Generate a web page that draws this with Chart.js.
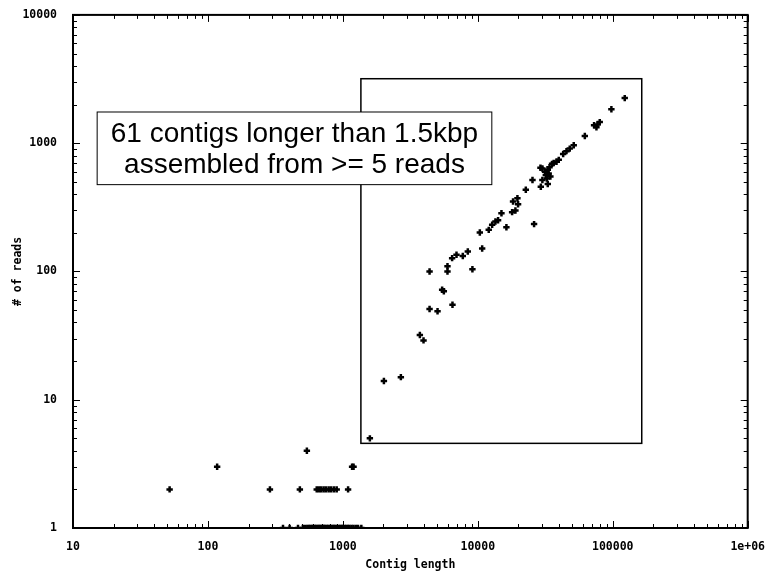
<!DOCTYPE html>
<html>
<head>
<meta charset="utf-8">
<script src="https://cdn.jsdelivr.net/npm/chart.js@4.4.1/dist/chart.umd.min.js"></script>
<style>
  html, body { margin: 0; padding: 0; background: #fff; }
  #wrap { width: 769px; height: 576px; }
</style>
</head>
<body>
<div id="wrap"><canvas id="readsChart" width="769" height="576"></canvas></div>
<script>
// contigs below 1.5kbp (few reads)
const shortLengths = [
  360, 403, 465, 505, 525, 545, 560, 575, 590, 605, 620, 635, 650, 665, 680, 695, 710, 725, 740, 760,
  780, 800, 820, 840, 860, 880, 905, 930, 955, 980, 1000, 1030, 1060, 1090, 1120, 1160, 1200, 1250, 1295, 1370,
  52, 288, 480, 640, 665, 690, 720, 750, 785, 820, 860, 900, 1093,
  117, 1170, 1200,
  541
];
const shortReads = [
  1, 1, 1, 1, 1, 1, 1, 1, 1, 1, 1, 1, 1, 1, 1, 1, 1, 1, 1, 1,
  1, 1, 1, 1, 1, 1, 1, 1, 1, 1, 1, 1, 1, 1, 1, 1, 1, 1, 1, 1,
  2, 2, 2, 2, 2, 2, 2, 2, 2, 2, 2, 2, 2,
  3, 3, 3,
  4
];

// the 61 contigs longer than 1.5kbp
const longLengths = [
  1585, 2014, 2690, 3720, 3960, 4390, 5030, 4390, 5440, 5600,
  6490, 5960, 5960, 6450, 6950, 7740, 8430, 9120, 10350, 10770,
  12050, 12770, 13510, 14130, 14970, 16290, 17950, 19000, 18240, 19660,
  19880, 26120, 22680, 25420, 29120, 39800, 42900, 45400, 48000, 51400,
  62100, 72700, 77100, 80100, 75700, 97700, 122700,
  29300, 30100, 30100, 31900, 31500, 32500, 33000, 33500, 33000, 34000,
  34500, 35500, 36500, 38300
];
const longReads = [
  5, 14, 15, 32, 29, 51, 49, 100, 72, 70,
  55, 110, 100, 127, 135, 132, 143, 104, 201, 151,
  211, 231, 245, 251, 284, 221, 290, 299, 351, 372,
  334, 234, 433, 517, 643, 741, 824, 867, 907, 964,
  1138, 1380, 1400, 1460, 1330, 1840, 2245,
  458, 517, 635, 565, 600, 530, 620, 580, 480, 650,
  550, 690, 700, 716
];

const xTickLabels = { 10: "10", 100: "100", 1000: "1000", 10000: "10000", 100000: "100000", 1000000: "1e+06" };
const yTickLabels = { 1: "1", 10: "10", 100: "100", 1000: "1000", 10000: "10000" };

const noteLines = ["61 contigs longer than 1.5kbp", "assembled from >= 5 reads"];

const toXY = (xs, ys) => xs.map((x, i) => ({ x, y: ys[i] }));

// all 1..9 x 10^n ticks between min and max
function logTicks(min, max) {
  const out = [];
  for (let p = Math.log10(min); p < Math.log10(max); p++) {
    for (let m = 1; m < 10; m++) out.push({ value: m * Math.pow(10, p) });
  }
  out.push({ value: max });
  return out;
}
const isMajor = v => Math.abs(Math.log10(v) - Math.round(Math.log10(v))) < 1e-9;

const monoFont = { family: "'DejaVu Sans Mono', monospace", size: 11.5, weight: "bold" };

// gnuplot-ish frame: inward ticks on all four sides + boxes + label
const framePlugin = {
  id: "frame",
  afterDraw(chart) {
    const { ctx, chartArea: a, scales: { x, y } } = chart;
    ctx.save();
    ctx.strokeStyle = "#000";
    ctx.lineWidth = 1;
    ctx.beginPath();
    x.ticks.forEach(t => {
      const px = Math.round(x.getPixelForValue(t.value)) + 0.5;
      const len = isMajor(t.value) ? 7 : 4;
      ctx.moveTo(px, a.bottom); ctx.lineTo(px, a.bottom - len);
      ctx.moveTo(px, a.top); ctx.lineTo(px, a.top + len);
    });
    y.ticks.forEach(t => {
      const py = Math.round(y.getPixelForValue(t.value)) + 0.5;
      const len = isMajor(t.value) ? 7 : 4;
      ctx.moveTo(a.left, py); ctx.lineTo(a.left + len, py);
      ctx.moveTo(a.right, py); ctx.lineTo(a.right - len, py);
    });
    ctx.stroke();

    ctx.lineWidth = 2;
    ctx.strokeRect(a.left, a.top, a.right - a.left, a.bottom - a.top);

    // box around the long contigs
    ctx.lineWidth = 1.5;
    const bx0 = x.getPixelForValue(1360), bx1 = x.getPixelForValue(164000);
    const by0 = y.getPixelForValue(3180), by1 = y.getPixelForValue(4.57);
    ctx.strokeRect(bx0, by0, bx1 - bx0, by1 - by0);

    // note box
    const nx0 = x.getPixelForValue(15.1), nx1 = x.getPixelForValue(12700);
    const ny0 = y.getPixelForValue(1750), ny1 = y.getPixelForValue(475);
    ctx.fillStyle = "#fff";
    ctx.fillRect(nx0, ny0, nx1 - nx0, ny1 - ny0);
    ctx.lineWidth = 1;
    ctx.strokeRect(nx0, ny0, nx1 - nx0, ny1 - ny0);
    ctx.fillStyle = "#000";
    ctx.font = "28px 'Liberation Sans', Arial, sans-serif";
    ctx.textAlign = "center";
    ctx.textBaseline = "middle";
    const cx = (nx0 + nx1) / 2, cy = (ny0 + ny1) / 2;
    ctx.fillText(noteLines[0], cx, cy - 14);
    ctx.fillText(noteLines[1], cx, cy + 17);
    ctx.restore();
  }
};

const pointDs = (data) => ({
  data,
  pointStyle: "cross",
  pointRadius: 3.2,
  pointBorderWidth: 2.5,
  borderColor: "#000",
  backgroundColor: "#000",
  showLine: false
});

new Chart(document.getElementById("readsChart"), {
  type: "scatter",
  data: {
    datasets: [
      pointDs(toXY(shortLengths, shortReads)),
      pointDs(toXY(longLengths, longReads))
    ]
  },
  options: {
    responsive: false,
    animation: false,
    layout: { padding: { top: 12, right: 21, left: 0, bottom: 0 } },
    plugins: { legend: { display: false }, tooltip: { enabled: false } },
    scales: {
      x: {
        type: "logarithmic", min: 10, max: 1000000,
        afterBuildTicks: s => { s.ticks = logTicks(10, 1000000); },
        afterFit: s => { s.height = 48; },
        grid: { display: false },
        border: { display: false },
        ticks: {
          autoSkip: false, maxRotation: 0, padding: 4, color: "#000", font: monoFont,
          callback: v => xTickLabels[v] ?? ""
        },
        title: { display: true, text: "Contig length", color: "#000", font: monoFont, padding: { top: 2, bottom: 4 } }
      },
      y: {
        type: "logarithmic", min: 1, max: 10000,
        afterBuildTicks: s => { s.ticks = logTicks(1, 10000); },
        afterFit: s => { s.width = 73; },
        grid: { display: false },
        border: { display: false },
        ticks: {
          autoSkip: false, padding: 8, color: "#000", font: monoFont,
          callback: v => yTickLabels[v] ?? ""
        },
        title: { display: true, text: "# of reads", color: "#000", font: monoFont, padding: { top: 11, bottom: 4 } }
      }
    }
  },
  plugins: [framePlugin]
});
</script>
</body>
</html>
